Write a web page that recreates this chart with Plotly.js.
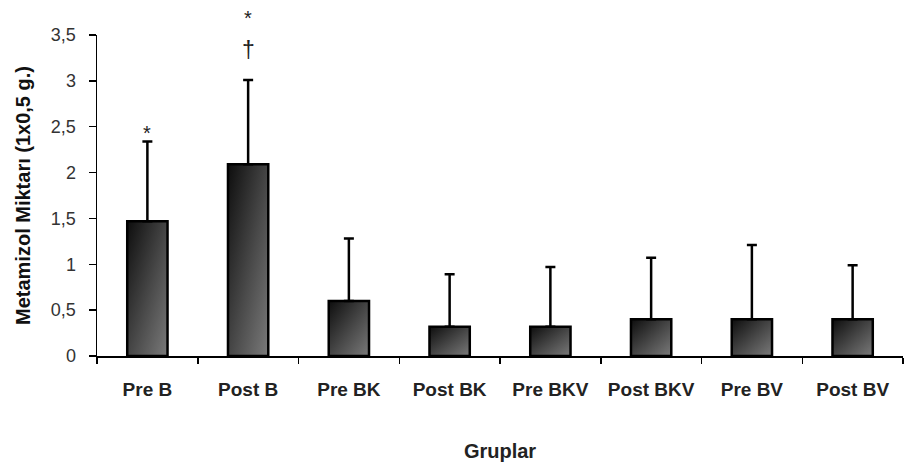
<!DOCTYPE html>
<html>
<head>
<meta charset="utf-8">
<script src="https://cdn.plot.ly/plotly-3.0.1.min.js"></script>
<style>
html,body{margin:0;padding:0;background:#fff;}
#chart{width:914px;height:465px;}
</style>
</head>
<body>
<div id="chart"></div>
<script>
var categories = ['Pre B', 'Post B', 'Pre BK', 'Post BK', 'Pre BKV', 'Post BKV', 'Pre BV', 'Post BV'];
var means = [1.47, 2.09, 0.60, 0.32, 0.32, 0.40, 0.40, 0.40];
var sds = [0.87, 0.92, 0.68, 0.57, 0.65, 0.67, 0.81, 0.59];
var yTicks = [0, 0.5, 1, 1.5, 2, 2.5, 3, 3.5];
var yTickLabels = ['0', '0,5', '1', '1,5', '2', '2,5', '3', '3,5'];
var sigCats = ['Pre B', 'Post B', 'Post B'];
var sigY = [2.49, 3.74, 3.34];
var sigText = ['*', '*', '†'];

var yMax = 3.5;
var zeros = means.map(function(){ return 0; });

var trace = {
  type: 'bar',
  x: categories,
  y: means,
  width: 0.4,
  marker: {color: '#444444', line: {color: '#000000', width: 2.5}},
  error_y: {
    type: 'data', symmetric: false, array: sds, arrayminus: zeros,
    color: '#000000', thickness: 2.5, width: 5
  },
  hoverinfo: 'none'
};

var annotations = sigCats.map(function(c, i){
  var star = sigText[i] === '*';
  return {
    x: c, y: sigY[i] / yMax, xref: 'x', yref: 'paper', text: sigText[i], showarrow: false,
    xanchor: 'center', yanchor: 'middle',
    font: {family: 'Liberation Sans, Arial, sans-serif', size: star ? 20 : 23, color: '#222222'},
    yshift: star ? -5 : 0
  };
});

var layout = {
  width: 914, height: 465,
  margin: {l: 97, r: 11, t: 35, b: 108.5},
  paper_bgcolor: '#ffffff', plot_bgcolor: '#ffffff',
  showlegend: false,
  font: {family: 'Liberation Sans, Arial, sans-serif', color: '#222222'},
  xaxis: {
    type: 'category',
    showline: true, linecolor: '#000000', linewidth: 1.5,
    ticks: 'outside', tickson: 'boundaries', ticklen: 6, tickwidth: 1.5, tickcolor: '#000000',
    tickfont: {family: 'Liberation Sans, Arial, sans-serif', size: 19, color: '#222222', weight: 'bold'},
    ticklabelstandoff: 16,
    showgrid: false, zeroline: false,
    title: {text: '<b>Gruplar</b>', font: {size: 20, color: '#222222'}, standoff: 44}
  },
  yaxis: {
    range: [0, yMax],
    tickvals: yTicks, ticktext: yTickLabels,
    showline: true, linecolor: '#000000', linewidth: 1.5,
    ticks: 'outside', ticklen: 7, tickwidth: 1.5, tickcolor: '#000000',
    tickfont: {family: 'Liberation Sans, Arial, sans-serif', size: 18, color: '#333333'},
    ticklabelstandoff: 9,
    showgrid: false, zeroline: false,
    title: {text: '<b>Metamizol Miktarı (1x0,5 g.)</b>', font: {size: 20, color: '#111111'}, standoff: 15}
  },
  annotations: annotations
};

Plotly.newPlot('chart', [trace], layout, {displayModeBar: false, staticPlot: true}).then(function(gd){
  var svg = gd.querySelector('svg.main-svg');
  var ns = 'http://www.w3.org/2000/svg';
  var defs = svg.querySelector('defs');
  if (!defs) { defs = document.createElementNS(ns, 'defs'); svg.insertBefore(defs, svg.firstChild); }
  var g = document.createElementNS(ns, 'linearGradient');
  g.setAttribute('id', 'barGrad');
  g.setAttribute('x1', '0'); g.setAttribute('y1', '0');
  g.setAttribute('x2', '1'); g.setAttribute('y2', '1');
  var stops = [['0', '#0d0d0d'], ['0.55', '#4a4a4a'], ['1', '#7a7a7a']];
  stops.forEach(function(s){
    var st = document.createElementNS(ns, 'stop');
    st.setAttribute('offset', s[0]); st.setAttribute('stop-color', s[1]);
    g.appendChild(st);
  });
  defs.appendChild(g);
  gd.querySelectorAll('.barlayer .point path').forEach(function(p){
    p.style.fill = 'url(#barGrad)';
  });
});
</script>
</body>
</html>
